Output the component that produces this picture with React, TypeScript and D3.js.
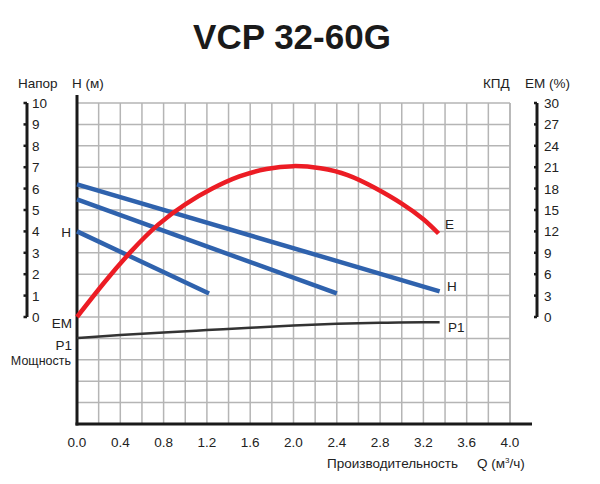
import React from "react";
import * as d3 from "d3";

const title = "VCP 32-60G";
const xTicks = [0, 0.4, 0.8, 1.2, 1.6, 2.0, 2.4, 2.8, 3.2, 3.6, 4.0];
const leftTicks = [0, 1, 2, 3, 4, 5, 6, 7, 8, 9, 10];
const rightTicks = [0, 3, 6, 9, 12, 15, 18, 21, 24, 27, 30];

// Efficiency curve E (%)
const effQ = [0, 0.25, 0.5, 0.75, 1.0, 1.25, 1.5, 1.75, 2.0, 2.25, 2.5, 2.75, 3.0, 3.2, 3.34];
const effV = [0, 4.8, 9.2, 12.95, 15.8, 18.0, 19.7, 20.75, 21.15, 20.85, 19.9, 18.12, 15.9, 13.7, 11.7];

// Head lines H (m), three speeds
const headQ1 = [0, 3.35];
const headV1 = [6.2, 1.2];
const headQ2 = [0, 2.4];
const headV2 = [5.5, 1.1];
const headQ3 = [0, 1.22];
const headV3 = [4.0, 1.1];

// Power P1 (W)
const powQ = [0, 0.4, 0.8, 1.2, 1.6, 2.0, 2.4, 2.8, 3.2, 3.35];
const powV = [40.2, 41.6, 42.8, 43.9, 45.0, 46.0, 46.8, 47.3, 47.6, 47.6];

export default function App() {
  const x = d3.scaleLinear().domain([0, 4]).range([77, 510]);
  const yH = d3.scaleLinear().domain([0, 10]).range([317, 103]);
  const yE = d3.scaleLinear().domain([0, 30]).range([317, 103]);
  const yP = d3.scaleLinear().domain([0, 50]).range([424, 317]);

  const gridX = d3.range(0, 21).map((i) => i * 0.2);
  const gridY = d3.range(-5, 11);

  const effLine = d3
    .line<number>()
    .x((_, i) => x(effQ[i]))
    .y((d) => yE(d))
    .curve(d3.curveNatural);
  const headLine = (qs: number[]) =>
    d3
      .line<number>()
      .x((_, i) => x(qs[i]))
      .y((d) => yH(d));
  const powLine = d3
    .line<number>()
    .x((_, i) => x(powQ[i]))
    .y((d) => yP(d))
    .curve(d3.curveMonotoneX);

  const font = "'Liberation Sans', Arial, sans-serif";
  const blue = "#2f62ad";
  const red = "#ec1c24";
  const txt = "#222";
  const fs = 13.5;

  return (
    <svg width={600} height={484} style={{ position: "absolute", left: 0, top: 0 }} fontFamily={font}>
      <rect width={600} height={484} fill="#fff" />
      <text x={292} y={49} textAnchor="middle" fontSize={35} fontWeight="bold" fill="#1a1a1a">
        {title}
      </text>

      {/* grid */}
      {gridX.map((q, i) => (
        <line key={"gx" + i} x1={x(q)} x2={x(q)} y1={yH(10)} y2={yH(-5)} stroke="#b5b5b5" strokeWidth={1.5} />
      ))}
      <line x1={x(4)} x2={x(4)} y1={yH(10)} y2={yH(-5)} stroke="#b5b5b5" strokeWidth={1.5} />
      {gridY.map((v, i) => (
        <line key={"gy" + i} x1={x(0)} x2={x(4)} y1={yH(v)} y2={yH(v)} stroke="#b5b5b5" strokeWidth={1.5} />
      ))}

      {/* main axes */}
      <line x1={x(0)} x2={x(0)} y1={95} y2={yH(-5) + 1.5} stroke="#1a1a1a" strokeWidth={3} />
      <line x1={x(0) - 1.5} x2={532} y1={yH(-5)} y2={yH(-5)} stroke="#1a1a1a" strokeWidth={3} />

      {/* left scale bar */}
      <line x1={27} x2={27} y1={yH(10)} y2={yH(0)} stroke="#1a1a1a" strokeWidth={3} />
      {leftTicks.map((t) => (
        <g key={"lt" + t}>
          <line x1={23.5} x2={27} y1={yH(t)} y2={yH(t)} stroke="#1a1a1a" strokeWidth={2.5} />
          <text x={32} y={yH(t) + 5} fontSize={fs} fill={txt}>
            {t}
          </text>
        </g>
      ))}

      {/* right scale bar */}
      <line x1={537} x2={537} y1={yE(30)} y2={yE(0)} stroke="#1a1a1a" strokeWidth={3} />
      {rightTicks.map((t) => (
        <g key={"rt" + t}>
          <line x1={534} x2={537} y1={yE(t)} y2={yE(t)} stroke="#1a1a1a" strokeWidth={2.5} />
          <text x={544} y={yE(t) + 5} fontSize={fs} fill={txt}>
            {t}
          </text>
        </g>
      ))}

      {/* x tick labels */}
      {xTicks.map((t) => (
        <text key={"xt" + t} x={x(t)} y={447} textAnchor="middle" fontSize={fs} fill={txt}>
          {t.toFixed(1)}
        </text>
      ))}

      {/* axis titles */}
      <text x={18} y={88} fontSize={fs} fill={txt}>Напор</text>
      <text x={72} y={88} fontSize={fs} fill={txt}>H (м)</text>
      <text x={483} y={88} fontSize={fs} fill={txt}>КПД</text>
      <text x={525} y={88} fontSize={fs} fill={txt}>EM (%)</text>
      <text x={327} y={468} fontSize={fs} fill={txt}>Производительность</text>
      <text x={477} y={468} fontSize={fs} fill={txt}>
        Q (м<tspan fontSize={8} dy={-5}>3</tspan>
        <tspan dy={5}>/ч)</tspan>
      </text>
      <text x={71} y={237} textAnchor="end" fontSize={fs} fill={txt}>H</text>
      <text x={72} y={328} textAnchor="end" fontSize={fs} fill={txt}>EM</text>
      <text x={72} y={350} textAnchor="end" fontSize={fs} fill={txt}>P1</text>
      <text x={71} y={365} textAnchor="end" fontSize={12.5} fill={txt}>Мощность</text>

      {/* curves */}
      <path d={powLine(powV) || ""} fill="none" stroke="#333" strokeWidth={2.5} />
      <path d={headLine(headQ1)(headV1) || ""} fill="none" stroke={blue} strokeWidth={4.5} />
      <path d={headLine(headQ2)(headV2) || ""} fill="none" stroke={blue} strokeWidth={4.5} />
      <path d={headLine(headQ3)(headV3) || ""} fill="none" stroke={blue} strokeWidth={4.5} />
      <path d={effLine(effV) || ""} fill="none" stroke={red} strokeWidth={4.5} />

      {/* curve labels */}
      <text x={445} y={229} fontSize={fs} fill={txt}>E</text>
      <text x={447} y={291} fontSize={fs} fill={txt}>H</text>
      <text x={448} y={332} fontSize={fs} fill={txt}>P1</text>
    </svg>
  );
}
